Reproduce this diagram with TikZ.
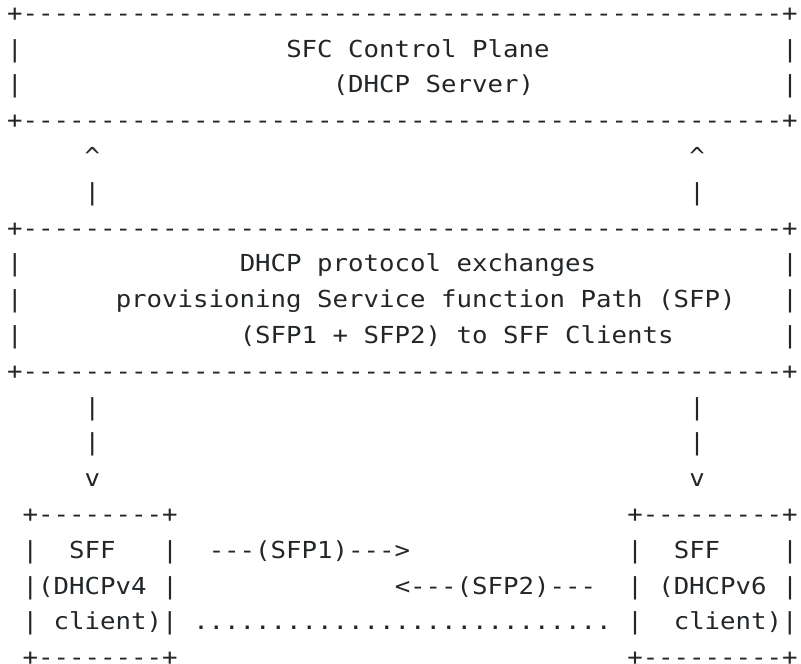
\documentclass[tikz,border=0pt]{standalone}
\usepackage{fontspec}
\newfontfamily\asciifont[FakeStretch=1.1,Ligatures=ResetAll]{DejaVu Sans Mono}
\definecolor{ink}{HTML}{222629}
\begin{document}
\begin{tikzpicture}[
  x=15.5pt, y=-35.8pt,
  seg/.style={anchor=base west, inner sep=0pt, outer sep=0pt, text=ink,
              font=\asciifont\fontsize{23.4pt}{28pt}\selectfont}]
% page frame: one unit = one character cell, rows counted on baselines
\useasboundingbox (-0.4677,0.4078) rectangle (51.21,18.955);

\def\wideline{+-------------------------------------------------+}

% control plane box
\node[seg] (cpTop) at (0,1) {\wideline};
\node[seg] (cpL2) at (0,2) {|};
\node[seg] (cpTitle) at (18,2) {SFC Control Plane};
\node[seg] (cpR2) at (50,2) {|};
\node[seg] (cpL3) at (0,3) {|};
\node[seg] (cpSub) at (21,3) {(DHCP Server)};
\node[seg] (cpR3) at (50,3) {|};
\node[seg] (cpBot) at (0,4) {\wideline};

% upward arrows
\node[seg] (upLhead) at (5,5) {\textasciicircum};
\node[seg] (upRhead) at (44,5) {\textasciicircum};
\node[seg] (upLbar) at (5,6) {|};
\node[seg] (upRbar) at (44,6) {|};

% exchange box
\node[seg] (exTop) at (0,7) {\wideline};
\node[seg] (exL8) at (0,8) {|};
\node[seg] (exT1) at (15,8) {DHCP protocol exchanges};
\node[seg] (exR8) at (50,8) {|};
\node[seg] (exL9) at (0,9) {|};
\node[seg] (exT2) at (7,9) {provisioning Service function Path (SFP)};
\node[seg] (exR9) at (50,9) {|};
\node[seg] (exL10) at (0,10) {|};
\node[seg] (exT3) at (15,10) {(SFP1 + SFP2) to SFF Clients};
\node[seg] (exR10) at (50,10) {|};
\node[seg] (exBot) at (0,11) {\wideline};

% downward arrows
\node[seg] (dnLbar1) at (5,12) {|};
\node[seg] (dnRbar1) at (44,12) {|};
\node[seg] (dnLbar2) at (5,13) {|};
\node[seg] (dnRbar2) at (44,13) {|};
\node[seg] (dnLhead) at (5,14) {v};
\node[seg] (dnRhead) at (44,14) {v};

% SFF (DHCPv4 client)
\node[seg] (v4Top) at (1,15) {+--------+};
\node[seg] (v4L16) at (1,16) {|};
\node[seg] (v4T1) at (4,16) {SFF};
\node[seg] (v4R16) at (10,16) {|};
\node[seg] (v4T2) at (1,17) {|(DHCPv4};
\node[seg] (v4R17) at (10,17) {|};
\node[seg] (v4L18) at (1,18) {|};
\node[seg] (v4T3) at (3,18) {client)|};
\node[seg] (v4Bot) at (1,19) {+--------+};

% paths between the clients
\node[seg] (sfp1) at (13,16) {---(SFP1)--->};
\node[seg] (sfp2) at (25,17) {<---(SFP2)---};
\node[seg] (dots) at (12,18) {...........................};

% SFF (DHCPv6 client)
\node[seg] (v6Top) at (40,15) {+---------+};
\node[seg] (v6L16) at (40,16) {|};
\node[seg] (v6T1) at (43,16) {SFF};
\node[seg] (v6R16) at (50,16) {|};
\node[seg] (v6L17) at (40,17) {|};
\node[seg] (v6T2) at (42,17) {(DHCPv6};
\node[seg] (v6R17) at (50,17) {|};
\node[seg] (v6L18) at (40,18) {|};
\node[seg] (v6T3) at (43,18) {client)|};
\node[seg] (v6Bot) at (40,19) {+---------+};
\end{tikzpicture}
\end{document}
